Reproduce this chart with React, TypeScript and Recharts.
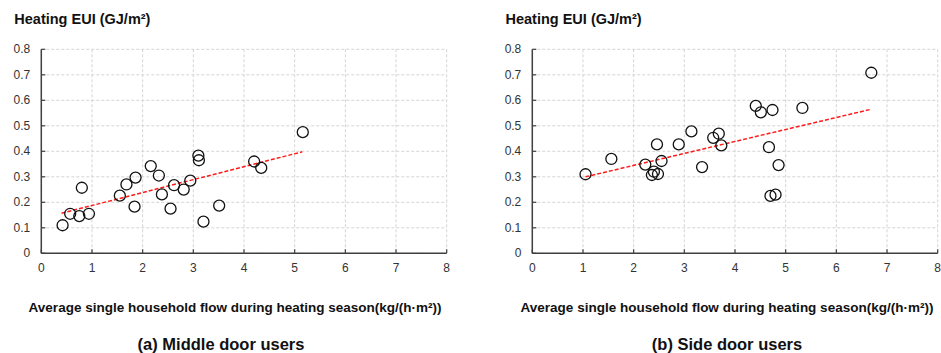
import { ScatterChart, Scatter, XAxis, YAxis, CartesianGrid, ReferenceLine } from 'recharts'

// (a) middle door users: flow (kg/(h·m²)) vs heating EUI (GJ/m²)
const middleFlow = [0.42, 0.57, 0.75, 0.8, 0.94, 1.55, 1.68, 1.86, 1.84, 2.16, 2.32, 2.38, 2.55, 2.62, 2.81, 2.94, 3.1, 3.11, 3.2, 3.51, 4.2, 4.34, 5.16]
const middleEui = [0.11, 0.155, 0.146, 0.257, 0.155, 0.226, 0.27, 0.297, 0.183, 0.342, 0.305, 0.231, 0.175, 0.267, 0.25, 0.285, 0.383, 0.365, 0.124, 0.187, 0.36, 0.335, 0.475]
const middleTrend = [
  { x: 0.4, y: 0.157 },
  { x: 5.15, y: 0.398 },
]

// (b) side door users
const sideFlow = [1.05, 1.56, 2.23, 2.36, 2.4, 2.48, 2.46, 2.55, 2.89, 3.14, 3.35, 3.57, 3.68, 3.73, 4.41, 4.51, 4.74, 5.33, 6.69, 4.67, 4.86, 4.7, 4.8]
const sideEui = [0.31, 0.37, 0.348, 0.307, 0.32, 0.311, 0.427, 0.362, 0.427, 0.478, 0.338, 0.453, 0.469, 0.423, 0.578, 0.553, 0.562, 0.57, 0.708, 0.416, 0.346, 0.225, 0.23]
const sideTrend = [
  { x: 1.05, y: 0.3 },
  { x: 6.69, y: 0.565 },
]

const xTicks = [0, 1, 2, 3, 4, 5, 6, 7, 8]
const yTicks = [0, 0.1, 0.2, 0.3, 0.4, 0.5, 0.6, 0.7, 0.8]

const yTitle = 'Heating EUI (GJ/m²)'
const xTitle = 'Average single household flow during heating season(kg/(h·m²))'

const FONT = '"Liberation Sans", Arial, sans-serif'
const AXIS = '#404040'

const XTick = ({ x, y, payload }: any) => (
  <g>
    <line x1={x} y1={y} x2={x} y2={y - 4} stroke={AXIS} strokeWidth={1.2} />
    <text x={x} y={y + 19} textAnchor="middle" fontSize={12} fill="#333" fontFamily={FONT}>
      {payload.value}
    </text>
  </g>
)

const YTick = ({ x, y, payload }: any) => (
  <g>
    <line x1={x} y1={y} x2={x + 4} y2={y} stroke={AXIS} strokeWidth={1.2} />
    <text x={x - 11} y={y + 4} textAnchor="end" fontSize={12} fill="#333" fontFamily={FONT}>
      {payload.value === 0 ? '0' : payload.value.toFixed(1)}
    </text>
  </g>
)

const OpenCircle = ({ cx, cy }: any) => (
  <circle cx={cx} cy={cy} r={5.5} fill="none" stroke="#111" strokeWidth={1.3} />
)

interface PanelProps {
  flow: number[]
  eui: number[]
  trend: { x: number; y: number }[]
  subtitle: string
  left: number
  width: number
  titleCenter: number
  subCenter: number
}

function Panel({ flow, eui, trend, subtitle, left, width, titleCenter, subCenter }: PanelProps) {
  const data = flow.map((f, i) => ({ x: f, y: eui[i] }))
  const plotLeft = 41.3
  const plotWidth = 405.4
  return (
    <div style={{ position: 'absolute', left, top: 0, width, height: 353 }}>
      <div style={{ position: 'absolute', left: plotLeft - 27, top: 11, fontSize: 14.5, fontWeight: 'bold', fontFamily: FONT, color: '#111', whiteSpace: 'nowrap' }}>
        {yTitle}
      </div>
      <ScatterChart
        width={width}
        height={353}
        margin={{ top: 49.3, right: width - plotLeft - plotWidth, bottom: 69.7, left: plotLeft - 30 }}
      >
        <CartesianGrid stroke="#d4d4d4" strokeDasharray="3 2" />
        <XAxis
          type="number"
          dataKey="x"
          domain={[0, 8]}
          ticks={xTicks}
          height={30}
          tickSize={0}
          tickMargin={0}
          tickLine={false}
          tick={<XTick />}
          axisLine={{ stroke: AXIS, strokeWidth: 1.5 }}
          interval={0}
        />
        <YAxis
          type="number"
          dataKey="y"
          domain={[0, 0.8]}
          ticks={yTicks}
          width={30}
          tickSize={0}
          tickMargin={0}
          tickLine={false}
          tick={<YTick />}
          axisLine={{ stroke: AXIS, strokeWidth: 1.5 }}
          interval={0}
        />
        <ReferenceLine segment={trend} stroke="#ff1a1a" strokeWidth={1.5} strokeDasharray="4 2" ifOverflow="visible" />
        <Scatter data={data} shape={<OpenCircle />} isAnimationActive={false} />
      </ScatterChart>
      <div style={{ position: 'absolute', left: titleCenter - left, top: 307, transform: 'translate(-50%, -50%)', fontSize: 13.5, fontWeight: 'bold', fontFamily: FONT, color: '#111', whiteSpace: 'nowrap' }}>
        {xTitle}
      </div>
      <div style={{ position: 'absolute', left: subCenter - left, top: 344, transform: 'translate(-50%, -50%)', fontSize: 16.5, fontWeight: 'bold', fontFamily: FONT, color: '#111', whiteSpace: 'nowrap' }}>
        {subtitle}
      </div>
    </div>
  )
}

export default function App() {
  return (
    <div style={{ position: 'absolute', left: 0, top: 0, width: 941, height: 353, overflow: 'hidden', background: '#fff' }}>
      <Panel flow={middleFlow} eui={middleEui} trend={middleTrend} subtitle="(a) Middle door users" left={0} width={470} titleCenter={235} subCenter={221} />
      <Panel flow={sideFlow} eui={sideEui} trend={sideTrend} subtitle="(b) Side door users" left={491.2} width={449.8} titleCenter={727} subCenter={727} />
    </div>
  )
}
